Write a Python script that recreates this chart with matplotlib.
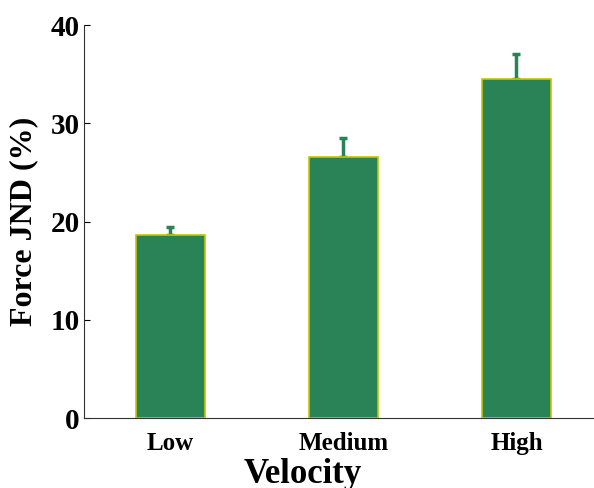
import matplotlib
matplotlib.use("Agg")
from matplotlib import pyplot as plt

categories = ["Low", "Medium", "High"]
jnd = [18.6, 26.6, 34.5]
err = [0.85, 1.95, 2.55]

plt.rcParams['font.family'] = ['Liberation Serif', 'DejaVu Serif']
plt.rcParams['font.weight'] = 'bold'

fig = plt.figure(figsize=(5.94, 4.88), dpi=100)
ax = fig.add_axes([0.1414, 0.1434, 0.8737, 0.8053])

x = range(len(categories))
ax.errorbar(x, jnd, yerr=[[0] * len(err), err], fmt='none', ecolor='#2a8257',
            elinewidth=2.5, capsize=3, capthick=2.5, zorder=1)
ax.bar(x, jnd, width=0.4, color='#2a8257', edgecolor='#c8c400', linewidth=1.2,
       zorder=2)

ax.set_xlim(-0.5, 2.5)
ax.set_ylim(0, 40)
ax.set_yticks([0, 10, 20, 30, 40])
ax.set_xticks(list(x))
ax.set_xticklabels(categories, fontsize=18, fontweight='bold')
ax.tick_params(axis='y', direction='in', length=4, labelsize=21, pad=3)
ax.tick_params(axis='x', length=0, pad=10)
for lab in ax.get_yticklabels():
    lab.set_fontweight('bold')

ax.spines['top'].set_visible(False)
ax.spines['right'].set_visible(False)
ax.spines['bottom'].set_color('#333333')
ax.spines['left'].set_color('#333333')

ax.set_xlabel('Velocity', fontsize=25, fontweight='bold')
ax.xaxis.set_label_coords(0.422, -0.103)
ax.set_ylabel('Force JND (%)', fontsize=23, fontweight='bold')
ax.yaxis.set_label_coords(-0.089, 0.5)

fig.savefig('out.png', dpi=100)
